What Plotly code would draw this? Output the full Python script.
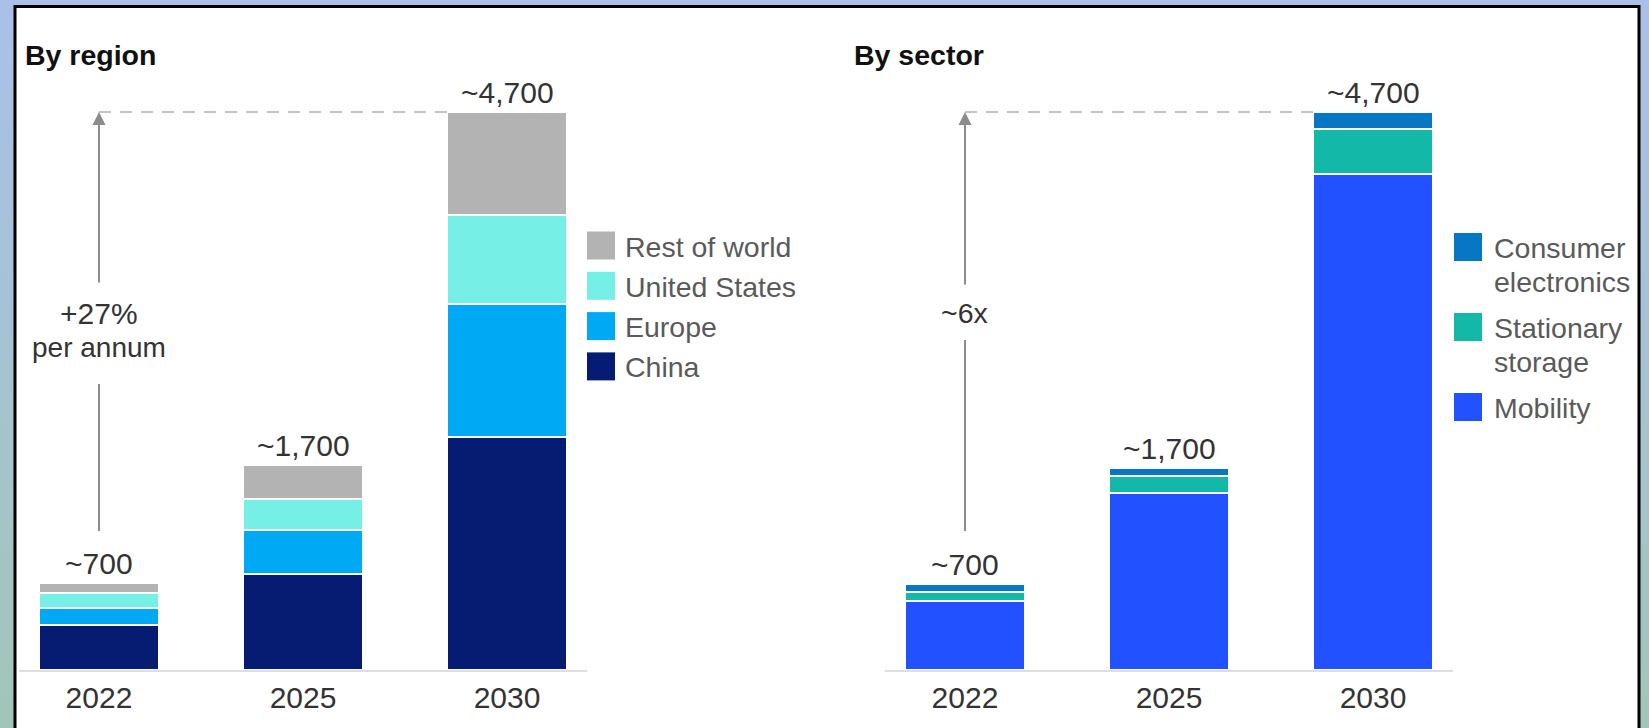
import plotly.graph_objects as go

# ---------------- data ----------------
years = ["2022", "2025", "2030"]

region_names = ["China", "Europe", "United States", "Rest of world"]   # stack order, bottom -> top
china = [380, 809, 1960]
europe = [145, 371, 1120]
united_states = [125, 258, 750]
rest_of_world = [80, 290, 870]

sector_names = ["Mobility", "Stationary storage", "Consumer electronics"]  # bottom -> top
mobility = [585, 1495, 4180]
stationary_storage = [75, 135, 375]
consumer_electronics = [65, 75, 145]

total_labels = ["~700", "~1,700", "~4,700"]
region_growth = ["+27%", "per annum"]
sector_growth = ["~6x"]

region_values = [china, europe, united_states, rest_of_world]
sector_values = [mobility, stationary_storage, consumer_electronics]

# ---------------- style ----------------
W, H = 1649, 728
FONT = "Liberation Sans, Arial, sans-serif"
region_colors = ["#051C72", "#00A9F4", "#76F0E6", "#B3B3B3"]
sector_colors = ["#2251FF", "#14B8A9", "#0677C4"]
TXT = "#333333"
LEG_TXT = "#5a5a5a"
BASE_PX = 670
TOP_PX = 0
PX_PER_UNIT = 558 / 4700.0
YMAX = (BASE_PX - TOP_PX) / PX_PER_UNIT
BAR_W = 0.588
XR = [-0.392, 2.392]


def fx(px):
    return px / W


def fy(py):
    return 1 - py / H


def uy(py):
    """pixel row -> data units"""
    return (BASE_PX - py) / PX_PER_UNIT


fig = go.Figure()

for name, vals, col in zip(region_names, region_values, region_colors):
    fig.add_trace(go.Bar(x=years, y=vals, name=name, marker=dict(color=col, line=dict(color="white", width=2)),
                         width=BAR_W, xaxis="x", yaxis="y", showlegend=False, hoverinfo="skip"))
for name, vals, col in zip(sector_names, sector_values, sector_colors):
    fig.add_trace(go.Bar(x=years, y=vals, name=name, marker=dict(color=col, line=dict(color="white", width=2)),
                         width=BAR_W, xaxis="x2", yaxis="y2", showlegend=False, hoverinfo="skip"))

region_totals = [sum(v) for v in zip(*region_values)]
sector_totals = [sum(v) for v in zip(*sector_values)]

shapes = []
annotations = []

# background gradient outside the frame
top_c = (0xAB, 0xC0, 0xE8)
bot_c = (0xA2, 0xC5, 0xBA)
N = 24
for i in range(N):
    t = i / (N - 1)
    c = tuple(round(a + (b - a) * t) for a, b in zip(top_c, bot_c))
    shapes.append(dict(type="rect", xref="paper", yref="paper", x0=0, x1=1,
                       y0=fy((i + 1) * H / N + 1), y1=fy(i * H / N), line=dict(width=0),
                       fillcolor="rgb(%d,%d,%d)" % c, layer="below"))
# white framed panel
shapes.append(dict(type="rect", xref="paper", yref="paper", x0=fx(15), x1=fx(1639), y0=fy(760), y1=fy(6.5),
                   line=dict(color="black", width=3), fillcolor="white", layer="below"))

# titles
annotations.append(dict(text="<b>By region</b>", xref="paper", yref="paper", x=fx(23), y=fy(55),
                        xanchor="left", yanchor="middle", showarrow=False,
                        font=dict(family=FONT, size=28.5, color="#111111")))
annotations.append(dict(text="<b>By sector</b>", xref="paper", yref="paper", x=fx(852), y=fy(55),
                        xanchor="left", yanchor="middle", showarrow=False,
                        font=dict(family=FONT, size=28.5, color="#111111")))

# total labels (category axis -> use category index)
for ax_id, totals in (("", region_totals), ("2", sector_totals)):
    for idx, (tot, lab) in enumerate(zip(totals, total_labels)):
        annotations.append(dict(text=lab, x=idx, y=tot, xref="x" + ax_id, yref="y" + ax_id,
                                xanchor="center", yanchor="bottom", yshift=1, showarrow=False,
                                font=dict(family=FONT, size=30, color=TXT)))


def growth_marker(ax_id, top_value, upper_end_px, lower_start_px, lower_end_px, texts, text_px, sizes):
    xr = "x" + ax_id
    yr = "y" + ax_id
    # dashed line from first bar to left edge of last bar
    shapes.append(dict(type="line", xref=xr, yref=yr, x0=0, x1=2 - BAR_W / 2, y0=top_value, y1=top_value,
                       line=dict(color="#c4c4c4", width=2, dash="12px,9px")))
    # lower segment
    shapes.append(dict(type="line", xref=xr, yref=yr, x0=0, x1=0, y0=uy(lower_end_px), y1=uy(lower_start_px),
                       line=dict(color="#8c8c8c", width=2)))
    # upper arrow
    annotations.append(dict(text="", x=0, y=top_value, ax=0, ay=uy(upper_end_px), xref=xr, yref=yr,
                            axref=xr, ayref=yr, showarrow=True, arrowhead=2, arrowsize=1.3,
                            arrowwidth=2, arrowcolor="#8c8c8c", standoff=0))
    for t, p, s in zip(texts, text_px, sizes):
        annotations.append(dict(text=t, x=0, y=uy(p), xref=xr, yref=yr, xanchor="center", yanchor="middle",
                                showarrow=False, font=dict(family=FONT, size=s, color=TXT)))


growth_marker("", region_totals[2], 284, 384, 531, region_growth, [313, 347], [30, 28])
growth_marker("2", sector_totals[2], 286, 340, 531, sector_growth, [313], [28.5])

# legends (drawn manually to get large swatches)
SW = 28
for i, (name, col) in enumerate(zip(region_names[::-1], region_colors[::-1])):
    cy = 245.5 + i * 40.3
    shapes.append(dict(type="rect", xref="paper", yref="paper", x0=fx(587), x1=fx(587 + SW),
                       y0=fy(cy + SW / 2), y1=fy(cy - SW / 2), line=dict(width=0), fillcolor=col))
    annotations.append(dict(text=name, xref="paper", yref="paper", x=fx(623), y=fy(cy + 1),
                            xanchor="left", yanchor="middle", showarrow=False,
                            font=dict(family=FONT, size=28.5, color=LEG_TXT)))

top = 233
for i, (name, col) in enumerate(zip(sector_names[::-1], sector_colors[::-1])):
    lines = name.split(" ")
    shapes.append(dict(type="rect", xref="paper", yref="paper", x0=fx(1454), x1=fx(1454 + SW),
                       y0=fy(top + SW), y1=fy(top), line=dict(width=0), fillcolor=col))
    for j, ln in enumerate(lines):
        annotations.append(dict(text=ln, xref="paper", yref="paper", x=fx(1492), y=fy(top + SW / 2 + 1 + j * 34),
                                xanchor="left", yanchor="middle", showarrow=False,
                                font=dict(family=FONT, size=28.5, color=LEG_TXT)))
    top += len(lines) * 34 + 12

axis_common = dict(type="category", range=XR, showline=True, linecolor="#dedede", linewidth=2,
                   ticks="", showgrid=False, zeroline=False, fixedrange=True,
                   tickfont=dict(family=FONT, size=30, color=TXT))
yaxis_common = dict(range=[0, YMAX], visible=False, showgrid=False, zeroline=False, fixedrange=True)

fig.update_layout(
    width=W, height=H, margin=dict(l=0, r=0, t=0, b=0),
    barmode="stack", bargap=0,
    paper_bgcolor="#abc0e8", plot_bgcolor="rgba(0,0,0,0)",
    showlegend=False,
    xaxis=dict(domain=[fx(19), fx(587)], anchor="y", **axis_common),
    yaxis=dict(domain=[fy(BASE_PX), fy(TOP_PX)], anchor="x", **yaxis_common),
    xaxis2=dict(domain=[fx(885), fx(1453)], anchor="y2", **axis_common),
    yaxis2=dict(domain=[fy(BASE_PX), fy(TOP_PX)], anchor="x2", **yaxis_common),
    shapes=shapes, annotations=annotations,
    font=dict(family=FONT),
)

fig.write_html("out.html", config={"displayModeBar": False},
               post_script="document.body.style.margin='0';document.body.style.overflow='hidden';")
